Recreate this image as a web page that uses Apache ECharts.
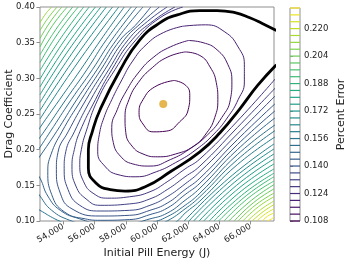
<!DOCTYPE html>
<html><head><meta charset="utf-8">
<script src="https://cdn.jsdelivr.net/npm/echarts@6/dist/echarts.min.js"></script>
<style>html,body{margin:0;padding:0;background:#fff}#c{width:354px;height:264px}</style>
</head><body><div id="c"></div>
<script>
// ---- data ----
const levels = [0.108,0.112,0.116,0.120,0.124,0.128,0.132,0.136,0.140,0.144,0.148,0.152,0.156,0.160,0.164,0.168,0.172,0.176,0.180,0.184,0.188,0.192,0.196,0.200,0.204,0.208,0.212,0.216,0.220,0.224,0.228,0.232];
const highlightLevel = 0.124;
const xTicks = [54000,56000,58000,60000,62000,64000,66000];
const yTicks = [0.10,0.15,0.20,0.25,0.30,0.35,0.40];
const cbTicks = [0.108,0.124,0.140,0.156,0.172,0.188,0.204,0.220];
const optimum = [[60400,0.264]];

// contour lines (Energy J, Drag coefficient), each level = list of segments
const line108 = [[[61100,0.297],[61850,0.290],[62100,0.276],[62000,0.256],[61450,0.239],[60600,0.226],[59750,0.225],[59100,0.236],[58850,0.252],[59100,0.270],[59850,0.288],[61100,0.297]]];
const line112 = [[[61800,0.337],[62750,0.332],[63400,0.316],[63800,0.294],[63900,0.270],[63700,0.245],[63200,0.224],[62350,0.205],[61200,0.194],[60050,0.190],[59100,0.194],[58400,0.205],[58000,0.224],[57950,0.245],[58200,0.270],[58800,0.294],[59700,0.315],[60700,0.330],[61800,0.337]]];
const line116 = [[[62000,0.353],[62950,0.350],[63850,0.340],[64550,0.319],[64800,0.295],[64700,0.270],[64150,0.245],[63250,0.221],[62100,0.201],[60850,0.186],[59550,0.177],[58450,0.180],[57650,0.191],[57200,0.210],[57100,0.231],[57450,0.256],[58000,0.281],[58850,0.309],[59800,0.330],[60850,0.344],[62000,0.353]]];
const line120 = [[[61650,0.373],[63100,0.375],[64350,0.365],[65200,0.344],[65600,0.319],[65600,0.295],[65200,0.270],[64550,0.246],[63650,0.222],[62500,0.200],[61200,0.182],[59950,0.169],[58650,0.162],[57500,0.165],[56650,0.177],[56200,0.197],[56300,0.221],[56600,0.245],[57100,0.270],[57750,0.298],[58400,0.323],[59300,0.347],[60400,0.364],[61650,0.373]]];
const line124 = [[[67650,0.367],[66750,0.377],[65950,0.385],[65000,0.392],[63850,0.395],[62750,0.395],[61300,0.389],[60200,0.378],[58900,0.354],[57650,0.312],[56350,0.256],[55850,0.225],[55600,0.200],[55600,0.174],[56100,0.153],[57000,0.144],[57950,0.142],[59250,0.148],[60850,0.169],[62750,0.197],[64050,0.224],[65300,0.257],[66450,0.290],[67650,0.319]]];
const line128 = [[[61650,0.400],[60200,0.385],[58650,0.354],[57300,0.312],[56200,0.270],[55450,0.225],[55150,0.200],[55050,0.179],[55300,0.155],[55900,0.139],[56850,0.132],[58250,0.134],[59550,0.141],[60650,0.155],[61800,0.173],[62750,0.187],[65150,0.240],[67650,0.301]]];
const line132 = [[[61150,0.400],[59850,0.382],[58400,0.354],[57100,0.312],[56050,0.270],[55050,0.225],[54700,0.200],[54550,0.177],[54800,0.149],[55450,0.131],[56350,0.122],[58250,0.124],[59550,0.131],[60650,0.144],[61800,0.162],[62750,0.177],[65150,0.231],[67650,0.288]]];
const line136 = [[[60650,0.400],[59400,0.380],[58150,0.354],[56900,0.312],[55750,0.270],[54700,0.225],[54150,0.197],[54050,0.174],[54300,0.144],[55050,0.122],[56350,0.114],[58250,0.115],[59550,0.122],[60650,0.134],[61800,0.152],[62750,0.169],[65150,0.222],[67650,0.277]]];
const line140 = [[[60150,0.400],[58950,0.377],[57900,0.354],[56650,0.312],[55450,0.270],[54300,0.225],[53650,0.196],[53550,0.172],[53800,0.139],[54550,0.117],[56350,0.107],[58250,0.108],[59550,0.115],[60650,0.125],[61800,0.144],[62750,0.160],[65150,0.214],[67650,0.266]]];
const line144 = [[[59600,0.400],[58600,0.374],[57650,0.354],[56400,0.312],[55150,0.270],[53900,0.225],[53200,0.193],[53000,0.169],[53250,0.137],[54050,0.113],[55400,0.103],[56350,0.101],[58250,0.102],[59550,0.109],[60650,0.118],[61800,0.137],[62750,0.153],[65150,0.207],[67650,0.256]]];
const line148 = [[[59100,0.400],[57400,0.354],[56150,0.312],[54850,0.270],[53550,0.225],[52500,0.191],[52100,0.179]],
                 [[52100,0.172],[52500,0.160],[53000,0.135],[53800,0.115],[55050,0.103],[56350,0.097],[58250,0.097],[59550,0.103],[60650,0.111],[61800,0.129],[62750,0.146],[65150,0.200],[67650,0.246]]];
const line152 = [[[58700,0.400],[57100,0.354],[55850,0.312],[54500,0.270],[53150,0.225],[52550,0.205],[52050,0.189]],
                 [[52050,0.151],[52500,0.135],[53250,0.115],[54400,0.101],[55700,0.093]],
                 [[58250,0.090],[59550,0.097],[60650,0.106],[61800,0.122],[62750,0.139],[65150,0.193],[67650,0.236]]];
const line156 = [[[58350,0.400],[56750,0.354],[55500,0.312],[54150,0.270],[52750,0.225],[52250,0.210]],
                 [[52250,0.118],[52500,0.115],[53450,0.103],[54400,0.094]],
                 [[59550,0.090],[60650,0.100],[61800,0.117],[62750,0.134],[65150,0.186],[67650,0.228]]];
const line160 = [[[57900,0.400],[56400,0.354],[55100,0.312],[53750,0.270],[52500,0.231],[52250,0.222]],
                 [[60500,0.090],[61300,0.100],[61800,0.111],[62750,0.128],[65150,0.179],[67650,0.219]]];
const line164 = [[[57550,0.400],[54950,0.323],[52500,0.243]],[[61750,0.100],[64600,0.160],[67500,0.208]]];
const line168 = [[[57150,0.400],[54750,0.329],[52500,0.255]],[[62050,0.100],[64800,0.158],[67500,0.201]]];
const line172 = [[[56750,0.400],[54550,0.335],[52500,0.266]],[[62350,0.100],[64950,0.154],[67500,0.194]]];
const line176 = [[[56400,0.400],[54350,0.340],[52500,0.277]],[[62700,0.100],[65100,0.150],[67500,0.187]]];
const line180 = [[[56050,0.400],[54200,0.346],[52500,0.288]],[[63000,0.100],[65250,0.146],[67500,0.180]]];
const line184 = [[[55650,0.400],[54000,0.351],[52500,0.299]],[[63350,0.100],[65400,0.142],[67500,0.173]]];
const line188 = [[[55300,0.400],[53850,0.357],[52500,0.311]],[[63650,0.100],[65600,0.139],[67500,0.167]]];
const line192 = [[[54950,0.400],[53650,0.363],[52500,0.322]],[[63950,0.100],[65750,0.136],[67500,0.162]]];
const line196 = [[[54600,0.400],[53500,0.368],[52500,0.333]],[[64300,0.100],[65900,0.133],[67500,0.156]]];
const line200 = [[[54250,0.400],[53300,0.374],[52500,0.344]],[[64600,0.100],[66050,0.129],[67500,0.151]]];
const line204 = [[[53900,0.400],[53150,0.379],[52500,0.356]],[[64950,0.100],[66200,0.126],[67500,0.145]]];
const line208 = [[[53600,0.400],[53000,0.384],[52500,0.367]],[[65200,0.100],[66350,0.123],[67500,0.139]]];
const line212 = [[[53250,0.400],[52850,0.390],[52500,0.378]],[[65500,0.100],[66500,0.120],[67500,0.134]]];
const line216 = [[[65800,0.100],[66650,0.116],[67500,0.128]]];
const line220 = [[[66100,0.100],[66800,0.113],[67500,0.123]]];
const line224 = [[[66400,0.100],[66950,0.110],[67500,0.117]]];
const line228 = [[[66750,0.100],[67100,0.107],[67500,0.111]]];
const line232 = [[[67050,0.100],[67350,0.103],[67500,0.106]]];

const contourTable = [
  [0.108,line108],[0.112,line112],[0.116,line116],[0.120,line120],[0.124,line124],
  [0.128,line128],[0.132,line132],[0.136,line136],[0.140,line140],[0.144,line144],
  [0.148,line148],[0.152,line152],[0.156,line156],[0.160,line160],[0.164,line164],
  [0.168,line168],[0.172,line172],[0.176,line176],[0.180,line180],[0.184,line184],
  [0.188,line188],[0.192,line192],[0.196,line196],[0.200,line200],[0.204,line204],
  [0.208,line208],[0.212,line212],[0.216,line216],[0.220,line220],[0.224,line224],
  [0.228,line228],[0.232,line232]
];

// ---- styling ----
const VIR = ['#440154','#482475','#414487','#355f8d','#2a788e','#21918c','#22a884','#44bf70','#7ad151','#bddf26','#fde725'];
function hex2rgb(h){return [parseInt(h.substr(1,2),16),parseInt(h.substr(3,2),16),parseInt(h.substr(5,2),16)];}
function viridis(v){
  const lo = levels[0], hi = levels[levels.length-1];
  let t = Math.max(0, Math.min(1, (v-lo)/(hi-lo)));
  const p = t*(VIR.length-1); const i = Math.min(VIR.length-2, Math.floor(p)); const f = p-i;
  const a = hex2rgb(VIR[i]), b = hex2rgb(VIR[i+1]);
  return 'rgb(' + a.map((x,k)=>Math.round(x+(b[k]-x)*f)).join(',') + ')';
}
const FONT = 'DejaVu Sans';
const TXT = '#222';
const SPINE = '#8f8f8f';

const series = [];
contourTable.forEach(([lv, segs]) => {
  const isHi = Math.abs(lv-highlightLevel) < 1e-9;
  segs.forEach(seg => {
    series.push({
      type:'line', xAxisIndex:0, yAxisIndex:0, data:seg, smooth:0.5, symbol:'none',
      silent:true, clip:true, z: isHi ? 4 : 2,
      lineStyle:{color: isHi ? '#000' : viridis(lv), width: isHi ? 2.8 : 1}
    });
  });
});
series.push({type:'scatter', xAxisIndex:0, yAxisIndex:0, data:optimum, symbolSize:8,
  itemStyle:{color:'#e0a526'}, z:6, silent:true});
levels.forEach(lv => {
  series.push({type:'line', xAxisIndex:1, yAxisIndex:1, data:[[0,lv],[1,lv]], symbol:'none',
    silent:true, clip:false, lineStyle:{color:viridis(lv), width:1.2}});
});

const chart = echarts.init(document.getElementById('c'), null, {renderer:'canvas'});
chart.setOption({
  animation:false,
  grid:[
    {left:40, top:7, width:234, height:214, show:true, borderColor:SPINE, borderWidth:1, outerBoundsMode:'none', containLabel:false},
    {left:290, top:8, width:10, height:213, show:true, borderColor:SPINE, borderWidth:1, outerBoundsMode:'none', containLabel:false}
  ],
  xAxis:[
    {type:'value', gridIndex:0, min:52500, max:67500,
      axisLine:{show:false}, splitLine:{show:false},
      axisTick:{show:true, customValues:xTicks, length:3.5, lineStyle:{color:SPINE}},
      axisLabel:{customValues:xTicks, rotate:30, fontSize:8.5, color:TXT, fontFamily:FONT, margin:5},
      name:'Initial Pill Energy (J)', nameLocation:'middle', nameGap:27, nameMoveOverlap:false,
      nameTextStyle:{fontSize:11, fontFamily:FONT, color:TXT}},
    {type:'value', gridIndex:1, min:0, max:1, show:false}
  ],
  yAxis:[
    {type:'value', gridIndex:0, min:0.10, max:0.40, interval:0.05,
      axisLine:{show:false}, splitLine:{show:false},
      axisTick:{show:true, length:3.5, lineStyle:{color:SPINE}},
      axisLabel:{fontSize:8.5, color:TXT, fontFamily:FONT, margin:5, formatter:v=>v.toFixed(2)},
      name:'Drag Coefficient', nameLocation:'middle', nameGap:25, nameRotate:90, nameMoveOverlap:false,
      nameTextStyle:{fontSize:11, fontFamily:FONT, color:TXT}},
    {type:'value', gridIndex:1, min:0.108, max:0.232, position:'right',
      axisLine:{show:false}, splitLine:{show:false},
      axisTick:{show:true, customValues:cbTicks, length:3, lineStyle:{color:SPINE}},
      axisLabel:{customValues:cbTicks, fontSize:8.5, color:TXT, fontFamily:FONT, margin:4, formatter:v=>v.toFixed(3)},
      name:'Percent Error', nameLocation:'middle', nameGap:36, nameRotate:90, nameMoveOverlap:false,
      nameTextStyle:{fontSize:11, fontFamily:FONT, color:TXT}}
  ],
  series: series
});
</script></body></html>
